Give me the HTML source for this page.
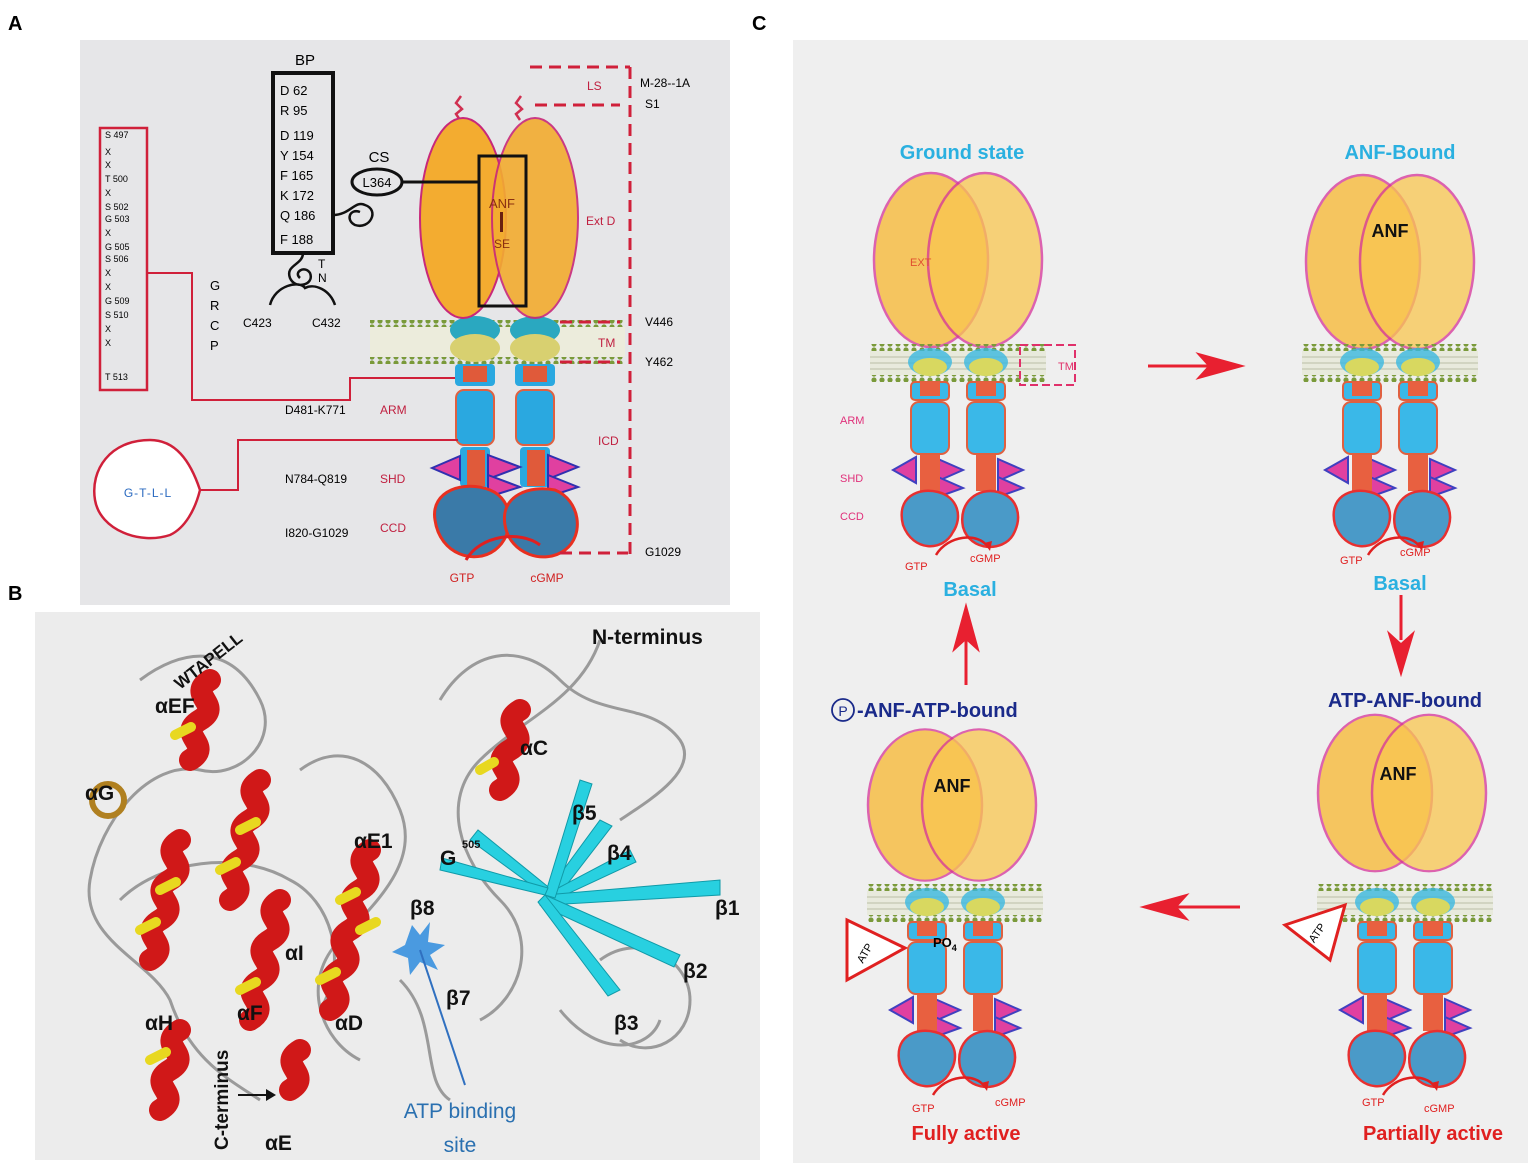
<!DOCTYPE html>
<html><head><meta charset="utf-8"><style>
html,body{margin:0;padding:0;background:#fff}
svg{display:block}
text{font-family:"Liberation Sans",sans-serif}
</style></head><body>
<svg width="1535" height="1175" viewBox="0 0 1535 1175" xmlns="http://www.w3.org/2000/svg">
<defs>
 <pattern id="dots" width="8" height="6" patternUnits="userSpaceOnUse"><circle cx="4" cy="3" r="2.6" fill="#7a9a3a"/></pattern>
 <g id="rec">
  <rect x="-88" y="-3" width="176" height="7" fill="url(#dots)"/>
  <rect x="-88" y="4" width="176" height="24" fill="#e8eadc"/>
  <path d="M-88 10 H88 M-88 16 H88 M-88 22 H88" stroke="#c9cdb8" stroke-width="1.5"/>
  <rect x="-88" y="28" width="176" height="7" fill="url(#dots)"/>
  <ellipse cx="-28" cy="15" rx="22" ry="14" fill="#3ab8e0" opacity="0.8"/>
  <ellipse cx="28" cy="15" rx="22" ry="14" fill="#3ab8e0" opacity="0.8"/>
  <ellipse cx="-28" cy="20" rx="17" ry="9" fill="#d8d860"/>
  <ellipse cx="28" cy="20" rx="17" ry="9" fill="#d8d860"/>
  <rect x="-47" y="35" width="38" height="18" rx="4" fill="#3ab8e8" stroke="#e06040" stroke-width="2"/>
  <rect x="9" y="35" width="38" height="18" rx="4" fill="#3ab8e8" stroke="#e06040" stroke-width="2"/>
  <rect x="-38" y="35" width="20" height="14" fill="#e86040"/>
  <rect x="18" y="35" width="20" height="14" fill="#e86040"/>
  <rect x="-47" y="55" width="38" height="52" rx="8" fill="#3ab8e8" stroke="#e06040" stroke-width="2"/>
  <rect x="9" y="55" width="38" height="52" rx="8" fill="#3ab8e8" stroke="#e06040" stroke-width="2"/>
  <polygon points="-65,123 -42,110 -42,136" fill="#e040a0" stroke="#4040c0" stroke-width="2"/>
  <polygon points="-20,112 5,123 -20,134" fill="#e040a0" stroke="#4040c0" stroke-width="2"/>
  <polygon points="-20,130 5,141 -20,150" fill="#e040a0" stroke="#4040c0" stroke-width="2"/>
  <polygon points="40,112 65,123 40,134" fill="#e040a0" stroke="#4040c0" stroke-width="2"/>
  <polygon points="40,130 65,141 40,150" fill="#e040a0" stroke="#4040c0" stroke-width="2"/>
  <rect x="-38" y="108" width="20" height="36" fill="#e86040"/>
  <rect x="18" y="108" width="20" height="36" fill="#e86040"/>
  <path d="M-55 178 C-62 150 -40 140 -20 145 C0 150 5 170 -5 185 C-15 205 -45 205 -55 178Z" fill="#4a9ac8" stroke="#e83030" stroke-width="2.5"/>
  <path d="M5 180 C0 155 20 140 40 145 C60 150 65 170 55 188 C45 205 12 205 5 180Z" fill="#4a9ac8" stroke="#e83030" stroke-width="2.5"/>
  <path d="M-22 208 C-10 188 20 185 30 200" fill="none" stroke="#e02020" stroke-width="2.5"/>
  <polygon points="26,196 34,194 32,204" fill="#e02020"/>
 </g>
 <g id="ext">
  <ellipse cx="-27" cy="0" rx="57" ry="87" fill="#f7b830" opacity="0.75" stroke="#d6339a" stroke-width="2.5"/>
  <ellipse cx="27" cy="0" rx="57" ry="87" fill="#f9c650" opacity="0.75" stroke="#d6339a" stroke-width="2.5"/>
 </g>
</defs>

<rect x="80" y="40" width="650" height="565" fill="#e6e6e8"/>
<text x="8" y="30" font-size="20" font-weight="bold">A</text>
<text x="8" y="600" font-size="20" font-weight="bold">B</text>
<text x="752" y="30" font-size="20" font-weight="bold">C</text>

<rect x="370" y="320" width="255" height="7" fill="url(#dots)"/>
<rect x="370" y="327" width="255" height="30" fill="#ececdc"/>
<rect x="370" y="357" width="255" height="7" fill="url(#dots)"/>
<ellipse cx="475" cy="330" rx="25" ry="14" fill="#2aa8c0"/>
<ellipse cx="535" cy="330" rx="25" ry="14" fill="#2aa8c0"/>
<ellipse cx="475" cy="348" rx="25" ry="14" fill="#d8d070"/>
<ellipse cx="535" cy="348" rx="25" ry="14" fill="#d8d070"/>
<path d="M460 120 l-4 -6 l6 -5 l-6 -6 l5 -7" fill="none" stroke="#d03050" stroke-width="2.5"/>
<path d="M520 120 l-4 -6 l6 -5 l-6 -6 l5 -7" fill="none" stroke="#d03050" stroke-width="2.5"/>
<ellipse cx="463" cy="218" rx="43" ry="100" fill="#f3ac30" stroke="#c8287a" stroke-width="2"/>
<ellipse cx="535" cy="218" rx="43" ry="100" fill="#f3ac30" opacity="0.9" stroke="#c8287a" stroke-width="2"/>
<rect x="479" y="156" width="47" height="150" fill="none" stroke="#111" stroke-width="3"/>
<text x="502" y="208" font-size="13" text-anchor="middle" fill="#8a3010">ANF</text>
<rect x="500" y="212" width="3" height="20" fill="#6a2010"/>
<text x="502" y="248" font-size="12" text-anchor="middle" fill="#8a3010">SE</text>
<rect x="455" y="364" width="40" height="22" rx="4" fill="#2aa8e0"/><rect x="463" y="366" width="24" height="16" fill="#e05a3a"/>
<rect x="515" y="364" width="40" height="22" rx="4" fill="#2aa8e0"/><rect x="523" y="366" width="24" height="16" fill="#e05a3a"/>
<rect x="456" y="390" width="38" height="55" rx="8" fill="#2aa8e0" stroke="#e06040" stroke-width="2"/>
<rect x="516" y="390" width="38" height="55" rx="8" fill="#2aa8e0" stroke="#e06040" stroke-width="2"/>
<rect x="460" y="447" width="30" height="40" rx="4" fill="#2aa8e0"/><rect x="467" y="450" width="18" height="36" fill="#e05a3a"/>
<rect x="520" y="447" width="30" height="40" rx="4" fill="#2aa8e0"/><rect x="527" y="450" width="18" height="36" fill="#e05a3a"/>
<polygon points="432,468 460,456 460,480" fill="#e040a0" stroke="#3030b0" stroke-width="2"/>
<polygon points="488,455 520,467 488,479" fill="#e040a0" stroke="#3030b0" stroke-width="2"/>
<polygon points="488,475 520,487 488,497" fill="#e040a0" stroke="#3030b0" stroke-width="2"/>
<polygon points="548,455 578,467 548,479" fill="#e040a0" stroke="#3030b0" stroke-width="2"/>
<polygon points="548,475 578,487 548,497" fill="#e040a0" stroke="#3030b0" stroke-width="2"/>
<path d="M435 520 C430 490 465 480 490 490 C515 500 515 535 495 550 C475 565 440 555 435 520Z" fill="#3a7aa8" stroke="#e83020" stroke-width="3"/>
<path d="M505 525 C500 495 530 485 555 490 C580 500 585 535 565 550 C545 565 510 555 505 525Z" fill="#3a7aa8" stroke="#e83020" stroke-width="3"/>
<path d="M466 560 C480 535 520 530 540 545" fill="none" stroke="#e02020" stroke-width="3"/>
<text x="462" y="582" font-size="12" fill="#d02020" text-anchor="middle">GTP</text>
<text x="547" y="582" font-size="12" fill="#d02020" text-anchor="middle">cGMP</text>
<g stroke="#d0203a" stroke-width="3" stroke-dasharray="12,7" fill="none">
<path d="M530 67 H630 M535 105 H620 M630 67 V555 M560 553 H628 M560 322 H620 M560 362 H620"/>
</g>
<text x="587" y="90" font-size="12" fill="#c02040">LS</text>
<text x="586" y="225" font-size="12" fill="#c02040">Ext D</text>
<text x="598" y="347" font-size="12" fill="#c02040">TM</text>
<text x="598" y="445" font-size="12" fill="#c02040">ICD</text>
<text x="640" y="87" font-size="12">M-28--1A</text>
<text x="645" y="108" font-size="12">S1</text>
<text x="645" y="326" font-size="12">V446</text>
<text x="645" y="366" font-size="12">Y462</text>
<text x="645" y="556" font-size="12">G1029</text>
<text x="285" y="414" font-size="12">D481-K771</text><text x="380" y="414" font-size="12" fill="#c02040">ARM</text>
<text x="285" y="483" font-size="12">N784-Q819</text><text x="380" y="483" font-size="12" fill="#c02040">SHD</text>
<text x="285" y="537" font-size="12">I820-G1029</text><text x="380" y="532" font-size="12" fill="#c02040">CCD</text>
<text x="305" y="65" font-size="15" text-anchor="middle">BP</text>
<rect x="273" y="73" width="60" height="180" fill="none" stroke="#111" stroke-width="4"/>
<g font-size="13">
<text x="280" y="95">D 62</text><text x="280" y="115">R 95</text><text x="280" y="140">D 119</text><text x="280" y="160">Y 154</text>
<text x="280" y="180">F 165</text><text x="280" y="200">K 172</text><text x="280" y="220">Q 186</text><text x="280" y="244">F 188</text>
</g>
<text x="379" y="162" font-size="15" text-anchor="middle">CS</text>
<ellipse cx="377" cy="182" rx="25" ry="13" fill="none" stroke="#111" stroke-width="3"/>
<text x="377" y="187" font-size="13" text-anchor="middle">L364</text>
<path d="M402 182 H479" stroke="#111" stroke-width="3"/>
<path d="M333 215 C350 215 355 200 365 205 C380 210 370 230 355 225 C345 220 350 208 360 212" fill="none" stroke="#111" stroke-width="2.5"/>
<path d="M303 253 C303 265 285 265 290 278 C295 290 315 285 310 273 C305 265 293 272 300 278 M270 305 C275 285 300 280 305 288 C315 283 330 290 335 305" fill="none" stroke="#111" stroke-width="2.5"/>
<text x="318" y="268" font-size="12">T</text><text x="318" y="282" font-size="12">N</text>
<text x="243" y="327" font-size="12">C423</text><text x="312" y="327" font-size="12">C432</text>
<text x="210" y="290" font-size="13">G</text><text x="210" y="310" font-size="13">R</text><text x="210" y="330" font-size="13">C</text><text x="210" y="350" font-size="13">P</text>
<rect x="100" y="128" width="47" height="262" fill="none" stroke="#d0203a" stroke-width="2.5"/>
<g font-size="9">
<text x="105" y="138">S 497</text><text x="105" y="155">X</text><text x="105" y="168">X</text><text x="105" y="182">T 500</text>
<text x="105" y="196">X</text><text x="105" y="210">S 502</text><text x="105" y="222">G 503</text><text x="105" y="236">X</text>
<text x="105" y="250">G 505</text><text x="105" y="262">S 506</text><text x="105" y="276">X</text><text x="105" y="290">X</text>
<text x="105" y="304">G 509</text><text x="105" y="318">S 510</text><text x="105" y="332">X</text><text x="105" y="346">X</text><text x="105" y="380">T 513</text>
</g>
<path d="M147 273 H192 V400 H350 V378 H455" fill="none" stroke="#d0203a" stroke-width="2"/>
<path d="M200 490 H238 V440 H458" fill="none" stroke="#d0203a" stroke-width="2"/>
<path d="M150 440 C110 440 90 470 95 500 C100 530 140 545 170 535 C185 528 195 510 200 490 C190 460 175 440 150 440Z" fill="#fff" stroke="#d0203a" stroke-width="2.5"/>
<text x="148" y="497" font-size="12" fill="#2a6ac0" text-anchor="middle" letter-spacing="1">G-T-L-L</text>

<!-- Panel B -->
<rect x="35" y="612" width="725" height="548" fill="#ececec"/>
<g fill="none" stroke="#9a9a9a" stroke-width="3">
<path d="M140 680 C180 650 230 640 260 700 C280 740 240 780 200 770 C150 760 100 820 90 880 C80 940 150 960 170 1000 C190 1060 230 1080 260 1100"/>
<path d="M300 770 C340 740 380 760 400 810 C420 860 380 900 340 940 C300 980 320 1040 360 1060"/>
<path d="M440 700 C470 650 520 640 560 680 C600 720 650 700 680 740 C700 770 650 800 620 820"/>
<path d="M600 640 C580 700 520 720 480 760 C440 800 460 860 500 900 C540 940 520 1000 480 1020"/>
<path d="M600 960 C640 930 690 960 690 1000 C690 1040 650 1060 620 1040"/>
<path d="M120 900 C160 860 240 850 290 880 C330 900 350 960 320 1010"/>
<path d="M400 980 C440 1020 420 1080 450 1100 M560 1010 C600 1060 650 1050 660 1020"/>
</g>
<g stroke-width="22" fill="none" stroke-linecap="round">
<path d="M150 960 C175 945 135 935 160 920 C185 905 145 895 170 880 C195 865 155 855 180 840" stroke="#d01818"/>
<path d="M230 900 C255 885 215 875 240 860 C265 845 225 835 250 820 C275 805 235 795 260 780" stroke="#d01818"/>
<path d="M250 1020 C275 1005 235 995 260 980 C285 965 245 955 270 940 C295 925 255 915 280 900" stroke="#d01818"/>
<path d="M330 1010 C355 995 315 985 340 970 C365 955 325 945 350 930 C375 915 335 905 360 890 C385 875 345 865 370 850" stroke="#d01818"/>
<path d="M190 760 C215 745 175 735 200 720 C225 705 185 695 210 680" stroke="#d01818"/>
<path d="M500 790 C525 775 485 765 510 750 C535 735 495 725 520 710" stroke="#d01818"/>
<path d="M290 1090 C315 1075 275 1065 300 1050" stroke="#d01818"/>
<path d="M160 1110 C185 1095 145 1085 170 1070 C195 1055 155 1045 180 1030" stroke="#d01818"/>
</g>
<g stroke-width="10" fill="none" stroke="#e8d820" stroke-linecap="round">
<path d="M140 930 l16 -8 M160 890 l16 -8 M220 870 l16 -8 M240 830 l16 -8 M240 990 l16 -8 M320 980 l16 -8 M340 900 l16 -8 M175 735 l16 -8 M360 930 l16 -8 M150 1060 l16 -8 M480 770 l14 -8"/>
</g>
<circle cx="108" cy="800" r="16" fill="none" stroke="#b08020" stroke-width="6"/>
<g fill="#28d0e0" stroke="#109aa8" stroke-width="1">
<path d="M545 895 L600 820 L612 826 L555 900Z"/><path d="M545 895 L630 850 L636 862 L550 902Z"/>
<path d="M545 895 L720 880 L720 895 L548 905Z"/><path d="M545 895 L680 955 L674 967 L540 905Z"/>
<path d="M545 895 L620 990 L608 996 L538 902Z"/><path d="M545 895 L470 840 L478 830 L552 890Z"/>
<path d="M545 895 L580 780 L592 784 L555 898Z"/><path d="M545 895 L440 870 L442 858 L548 888Z"/>
</g>
<polygon points="405,945 412,925 420,935 430,922 428,942 445,945 430,955 438,970 420,962 410,975 408,958 392,952" fill="#4a9ae0"/>
<path d="M420 950 L465 1085" stroke="#3070c0" stroke-width="2"/>
<g font-size="21" font-weight="bold" fill="#111">
<text x="592" y="644">N-terminus</text>
<text x="520" y="755">αC</text>
<text x="572" y="820">β5</text>
<text x="607" y="860">β4</text>
<text x="715" y="915">β1</text>
<text x="683" y="978">β2</text>
<text x="614" y="1030">β3</text>
<text x="354" y="848">αE1</text>
<text x="440" y="865">G</text><text x="462" y="848" font-size="11">505</text>
<text x="410" y="915">β8</text>
<text x="446" y="1005">β7</text>
<text x="335" y="1030">αD</text>
<text x="285" y="960">αI</text>
<text x="237" y="1020">αF</text>
<text x="145" y="1030">αH</text>
<text x="265" y="1150">αE</text>
<text x="85" y="800">αG</text>
<text x="155" y="713">αEF</text>
<text x="0" y="0" transform="translate(180,690) rotate(-38)" font-size="17">WTAPELL</text>
<text x="0" y="0" transform="translate(228,1150) rotate(-90)" font-size="19">C-terminus</text>
</g>
<path d="M238 1095 H272" stroke="#111" stroke-width="2"/><polygon points="276,1095 266,1089 266,1101" fill="#111"/>
<text x="460" y="1118" font-size="21" fill="#2a70b0" text-anchor="middle">ATP binding</text>
<text x="460" y="1152" font-size="21" fill="#2a70b0" text-anchor="middle">site</text>

<!-- Panel C -->
<rect x="793" y="40" width="735" height="1123" fill="#efefef"/>
<g font-size="20" font-weight="bold" text-anchor="middle">
<text x="962" y="159" fill="#2ab0e0">Ground state</text>
<text x="1400" y="159" fill="#2ab0e0">ANF-Bound</text>
<text x="970" y="596" fill="#2ab0e0">Basal</text>
<text x="1400" y="590" fill="#2ab0e0">Basal</text>
<text x="1405" y="707" fill="#1a2a8a">ATP-ANF-bound</text>
<text x="857" y="717" fill="#1a2a8a" text-anchor="start">-ANF-ATP-bound</text>
<text x="966" y="1140" fill="#e02020">Fully active</text>
<text x="1433" y="1140" fill="#e02020">Partially active</text>
</g>
<circle cx="843" cy="710" r="11" fill="none" stroke="#1a2a8a" stroke-width="1.8"/>
<text x="843" y="716" font-size="14" text-anchor="middle" fill="#1a2a8a">P</text>

<use href="#ext" x="958" y="260"/>
<use href="#rec" x="958" y="347"/>
<use href="#ext" x="1390" y="262"/>
<use href="#rec" x="1390" y="347"/>
<g transform="translate(952,805) scale(1,0.87)"><use href="#ext"/></g>
<use href="#rec" x="955" y="887"/>
<g transform="translate(1402,793) scale(1,0.9)"><use href="#ext"/></g>
<use href="#rec" x="1405" y="887"/>
<g font-size="18" font-weight="bold" text-anchor="middle" fill="#111">
<text x="1390" y="237">ANF</text><text x="952" y="792">ANF</text><text x="1398" y="780">ANF</text>
</g>
<text x="910" y="266" font-size="11" fill="#e05030">EXT</text>
<rect x="1020" y="345" width="55" height="40" fill="none" stroke="#e0306a" stroke-width="2" stroke-dasharray="8,4"/>
<text x="1058" y="370" font-size="11" fill="#e0306a">TM</text>
<g font-size="11" fill="#e0307a"><text x="840" y="424">ARM</text><text x="840" y="482">SHD</text><text x="840" y="520">CCD</text></g>
<g font-size="11" fill="#e02020"><text x="905" y="570">GTP</text><text x="970" y="562">cGMP</text>
<text x="1340" y="564">GTP</text><text x="1400" y="556">cGMP</text>
<text x="912" y="1112">GTP</text><text x="995" y="1106">cGMP</text>
<text x="1362" y="1106">GTP</text><text x="1424" y="1112">cGMP</text></g>
<polygon points="847,920 905,948 847,980" fill="#fff" stroke="#e02020" stroke-width="3"/>
<text x="868" y="955" font-size="11" transform="rotate(-60 868 955)" text-anchor="middle">ATP</text>
<text x="933" y="947" font-size="13" font-weight="bold">PO<tspan font-size="9" dy="4">4</tspan></text>
<polygon points="1285,925 1345,905 1330,960" fill="#fff" stroke="#e02020" stroke-width="3"/>
<text x="1320" y="935" font-size="11" transform="rotate(-55 1320 935)" text-anchor="middle">ATP</text>
<g stroke="#e82030" stroke-width="3" fill="#e82030">
<path d="M1148 366 H1210"/><polygon points="1240,366 1200,355 1210,366 1200,377"/>
<path d="M1401 595 V640"/><polygon points="1401,672 1390,635 1401,645 1412,635"/>
<path d="M1240 907 H1175"/><polygon points="1145,907 1185,896 1175,907 1185,918"/>
<path d="M966 685 V640"/><polygon points="966,608 955,648 966,638 977,648"/>
</g>
</svg>
</body></html>
